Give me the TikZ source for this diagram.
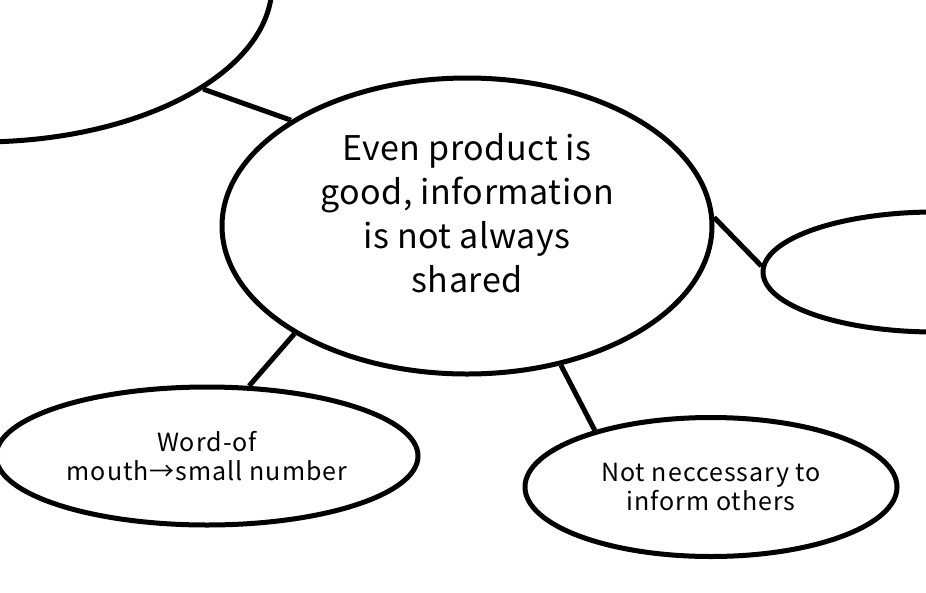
\documentclass[tikz,border=0pt]{standalone}
\usepackage{fontspec}
\setmainfont[LetterSpace=1.5]{Noto Sans CJK JP}
\newfontfamily\widefont[LetterSpace=4]{Noto Sans CJK JP}
\usepackage{tikz}
\usetikzlibrary{shapes.geometric}

\begin{document}
\begin{tikzpicture}[x=1pt, y=-1pt, line width=5pt,
  bubble/.style={draw, ellipse, inner sep=0pt, align=center},
  bigtext/.style={font=\fontsize{34}{44}\selectfont},
  smalltext/.style={font=\widefont\fontsize{25}{29}\selectfont}]
\useasboundingbox (0,0) rectangle (926,592);
\clip (0,0) rectangle (926,592);
% centre bubble, text sits a little high
\node[bubble, bigtext, text depth=26pt, minimum width=490pt, minimum height=296pt] (shared) at (467,226)
  {Even product is\\good, information\\is not always\\shared};
% bubbles cut off by the page edge
\node[bubble, minimum width=584pt, minimum height=314pt] (topleft) at (-20,-15) {};
\node[bubble, minimum width=344pt, minimum height=120pt] (right) at (935,272) {};
% lower bubbles
\node[bubble, smalltext, minimum width=422pt, minimum height=138pt] (mouth) at (207,456)
  {Word-of\\mouth→small number};
\node[bubble, smalltext, minimum width=372pt, minimum height=139pt] (inform) at (711,487)
  {Not neccessary to\\inform others};
% links
\draw (shared.149) -- (topleft.-25);
\draw (shared.2) -- (right.178);
\draw (shared.212) -- (mouth.59);
\draw (shared.304) -- (inform.154);
\end{tikzpicture}
\end{document}
